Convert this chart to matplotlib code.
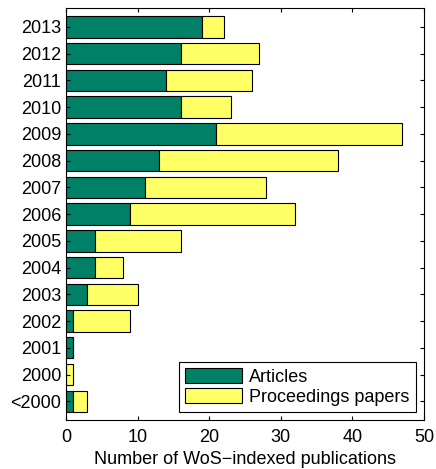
import numpy as np
import matplotlib
matplotlib.use('Agg')
import matplotlib.pyplot as plt

plt.rcParams['font.family'] = ['Liberation Sans', 'DejaVu Sans']

years = ['<2000', '2000', '2001', '2002', '2003', '2004', '2005', '2006',
         '2007', '2008', '2009', '2010', '2011', '2012', '2013']
articles = [1, 0, 1, 1, 3, 4, 4, 9, 11, 13, 21, 16, 14, 16, 19]
proceedings = [2, 1, 0, 8, 7, 4, 12, 23, 17, 25, 26, 7, 12, 11, 3]

green = '#008066'
yellow = '#ffff66'

fig = plt.figure(figsize=(4.36, 4.69), dpi=100)
ax = fig.add_axes([0.1514, 0.1045, 0.821, 0.878])

y = np.arange(1, len(years) + 1)
ax.barh(y, articles, height=0.8, color=green, edgecolor='black', linewidth=0.8,
        label='Articles')
ax.barh(y, proceedings, height=0.8, left=articles, color=yellow,
        edgecolor='black', linewidth=0.8, label='Proceedings papers')

ax.set_xlim(0, 50)
ax.set_ylim(0.3, 15.7)
ax.set_xticks(np.arange(0, 51, 10))
ax.set_yticks(y)
ax.set_yticklabels(years)
ax.tick_params(direction='in', top=True, right=True, labelsize=13, length=3)
ax.tick_params(axis='x', pad=6.5)
ax.tick_params(axis='y', pad=3.5)
ax.set_xlabel('Number of WoS\u2212indexed publications', fontsize=13, labelpad=3.5)

leg = ax.legend(loc='lower right', fontsize=13, handlelength=3.15,
                handleheight=0.9, fancybox=False, edgecolor='black',
                framealpha=1, borderaxespad=0.44, borderpad=0.35,
                labelspacing=0.1, handletextpad=0.4)
leg.get_frame().set_linewidth(0.8)

fig.savefig('out.png', dpi=100)
